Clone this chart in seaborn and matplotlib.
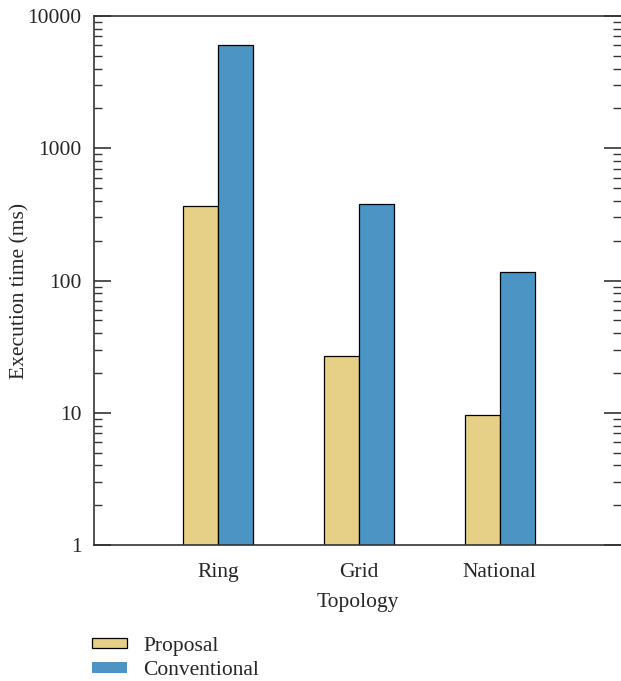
import matplotlib.pyplot as plt
import seaborn as sns
import pandas as pd
from matplotlib.patches import Patch
from matplotlib.ticker import LogLocator, NullFormatter, FixedLocator, FixedFormatter

topologies = ['Ring', 'Grid', 'National']
proposal = [366, 27, 9.6]
conventional = [6000, 379, 116]
series = ['Proposal', 'Conventional']
colors = ['#E6D085', '#4A95C4']

df = pd.DataFrame({
    'Topology': topologies * 2,
    'Method': [series[0]] * 3 + [series[1]] * 3,
    'Time': proposal + conventional,
})

sns.set_style('white')
plt.rcParams['font.family'] = ['Liberation Serif', 'DejaVu Serif']
fs = 15.5

fig = plt.figure(figsize=(6.21, 6.81), dpi=100)
ax = fig.add_axes([0.1514, 0.1997, 0.8486, 0.7768])

sns.barplot(data=df, x='Topology', y='Time', hue='Method', palette=colors,
            saturation=1, width=0.5, edgecolor='black', linewidth=0.9,
            ax=ax, legend=False)

ax.set_yscale('log')
ax.set_ylim(1, 10000)
ax.set_xlim(-0.88, 2.86)

yt = [1, 10, 100, 1000, 10000]
ax.yaxis.set_major_locator(FixedLocator(yt))
ax.yaxis.set_major_formatter(FixedFormatter([str(v) for v in yt]))
ax.yaxis.set_minor_locator(LogLocator(base=10, subs=range(2, 10)))
ax.yaxis.set_minor_formatter(NullFormatter())

ax.tick_params(axis='y', which='major', direction='in', length=12, width=1.2,
               left=True, right=True, labelsize=fs, pad=9, color='#333333')
ax.tick_params(axis='y', which='minor', direction='in', length=6, width=1.0,
               left=True, right=True, color='#333333')
ax.tick_params(axis='x', length=0, labelsize=fs, pad=13)

for s in ['top', 'left', 'bottom']:
    ax.spines[s].set_color('#333333')
    ax.spines[s].set_linewidth(1.2)
ax.spines['right'].set_visible(False)

ax.set_xlabel('Topology', fontsize=fs, labelpad=8)
ax.set_ylabel('Execution time (ms)', fontsize=fs)
ax.yaxis.set_label_coords(-0.123, 0.48)

handles = [Patch(facecolor=colors[0], edgecolor='black', linewidth=0.9),
           Patch(facecolor=colors[1], edgecolor='none')]
ax.legend(handles, series, loc='upper left', bbox_to_anchor=(-0.02, -0.157),
          frameon=False, fontsize=fs, handlelength=1.63, handleheight=0.4,
          handletextpad=0.75, labelspacing=0.25, borderaxespad=0)

fig.savefig('out.png', dpi=100)
